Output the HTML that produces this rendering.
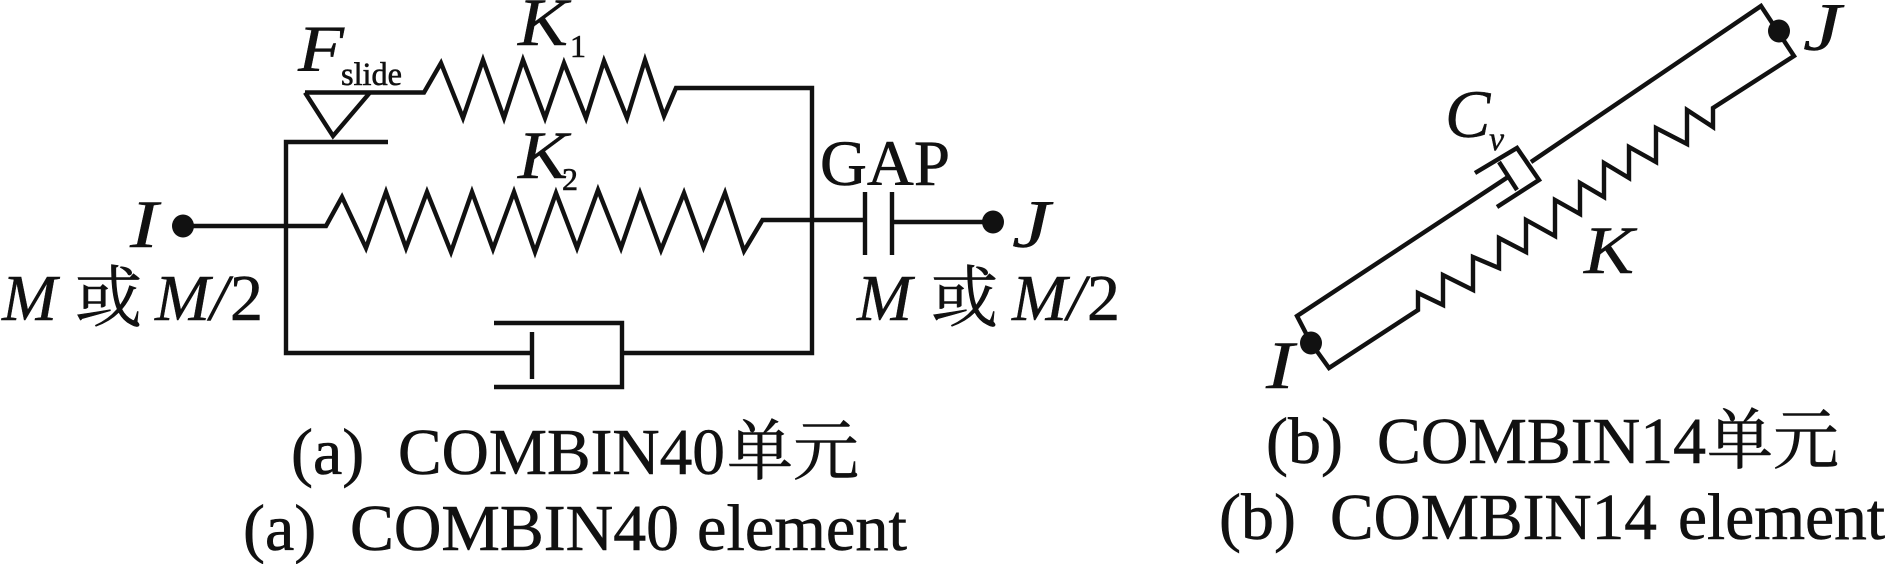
<!DOCTYPE html>
<html><head><meta charset="utf-8"><style>
html,body{margin:0;padding:0;background:#fff;width:1886px;height:564px;overflow:hidden}
svg{display:block}
text{font-family:"Liberation Serif","Noto Serif CJK SC",serif;fill:#111;stroke:#111;stroke-width:.6}
.i{font-style:italic;stroke-width:.4}
.c{font-size:66px}
path{fill:none;stroke:#111;stroke-width:4.4;stroke-linejoin:miter}
</style></head><body>
<svg width="1886" height="564" viewBox="0 0 1886 564" xmlns="http://www.w3.org/2000/svg">
<!-- left diagram -->
<path d="M305 92.5H424L441 63L463 118L483 60L504 118L523 60L545 118L564 63L586 118L604 61L627 118L645 60L664 116L676 88H812V353H622"/>
<path d="M305 92.5L333 136L370 92.5"/>
<path d="M388 142H286V353H532"/>
<path d="M532 332V379" stroke-width="3.5"/>
<path d="M494 323H622V387H494"/>
<path d="M183 226H326L342 197L366 248L386 192L406 248L427 192L451 252L472 192L493 249L514 192L535 252L556 193L577 248L598 190L621 248L640 193L661 250L684 193L703.5 247L725 193L744 251L762.5 220H865"/>
<path d="M865 192V255M892 192V255" stroke-width="3.5"/>
<path d="M892 222H993"/>
<ellipse cx="183" cy="226" rx="11" ry="11.5" fill="#111"/>
<ellipse cx="993" cy="222" rx="11" ry="11.5" fill="#111"/>
<!-- right diagram -->
<path d="M1311 343L1297 316L1508 177"/>
<path d="M1531 162L1761 6L1794 56L1713 108V127L1687 110V144L1656 128V162L1629 147V178L1604 163V197L1580 183V214L1555 200V236L1526 220V252L1499 238V268L1473 257V290L1443 275V305L1418 293V310L1329 368L1311 343"/>
<path d="M1475 173L1517 148L1539 180L1497 207"/>
<path d="M1499 162L1517 190"/>
<ellipse cx="1311" cy="343" rx="11" ry="11.5" fill="#111"/>
<ellipse cx="1779" cy="31" rx="11" ry="11.5" fill="#111"/>
<!-- labels left -->
<text class="i" x="298" y="71" font-size="66" textLength="46" lengthAdjust="spacingAndGlyphs">F</text>
<text x="341" y="85" font-size="33" textLength="61" lengthAdjust="spacingAndGlyphs">slide</text>
<text class="i" x="518" y="45" font-size="68" textLength="50" lengthAdjust="spacingAndGlyphs">K</text>
<text x="570" y="57" font-size="32">1</text>
<text class="i" x="518" y="178" font-size="68" textLength="50" lengthAdjust="spacingAndGlyphs">K</text>
<text x="562" y="190" font-size="32">2</text>
<text x="820" y="185" font-size="65" textLength="130" lengthAdjust="spacingAndGlyphs">GAP</text>
<text class="i" x="130" y="247" font-size="68" textLength="28" lengthAdjust="spacingAndGlyphs">I</text>
<text class="i" x="1012" y="247" font-size="68" textLength="38" lengthAdjust="spacingAndGlyphs">J</text>
<text class="i" x="2" y="320" font-size="66">M</text>
<text x="75" y="321" font-size="67">或</text>
<text class="i" x="155" y="320" font-size="66">M/</text>
<text x="230" y="320" font-size="66">2</text>
<text class="i" x="857" y="320" font-size="66">M</text>
<text x="931" y="321" font-size="67">或</text>
<text class="i" x="1012" y="320" font-size="66">M/</text>
<text x="1087" y="320" font-size="66">2</text>
<!-- labels right -->
<text class="i" x="1445" y="137" font-size="68">C</text>
<text class="i" x="1489" y="150" font-size="34">v</text>
<text class="i" x="1584" y="273" font-size="68" textLength="50" lengthAdjust="spacingAndGlyphs">K</text>
<text class="i" x="1266" y="388" font-size="68" textLength="28" lengthAdjust="spacingAndGlyphs">I</text>
<text class="i" x="1803" y="50" font-size="68" textLength="38" lengthAdjust="spacingAndGlyphs">J</text>
<!-- captions -->
<text class="c" x="291" y="474">(a)</text>
<text class="c" x="398" y="474" textLength="327" lengthAdjust="spacingAndGlyphs">COMBIN40</text>
<text class="c" x="727" y="474" font-size="65">单元</text>
<text class="c" x="243" y="550">(a)</text>
<text class="c" x="350" y="550" textLength="329" lengthAdjust="spacingAndGlyphs">COMBIN40</text>
<text class="c" x="697" y="550" textLength="210" lengthAdjust="spacingAndGlyphs">element</text>
<text class="c" x="1266" y="463">(b)</text>
<text class="c" x="1377" y="463" textLength="329" lengthAdjust="spacingAndGlyphs">COMBIN14</text>
<text class="c" x="1707" y="463" font-size="65">单元</text>
<text class="c" x="1219" y="539">(b)</text>
<text class="c" x="1330" y="539" textLength="327" lengthAdjust="spacingAndGlyphs">COMBIN14</text>
<text class="c" x="1678" y="539" textLength="207" lengthAdjust="spacingAndGlyphs">element</text>
</svg>
</body></html>
